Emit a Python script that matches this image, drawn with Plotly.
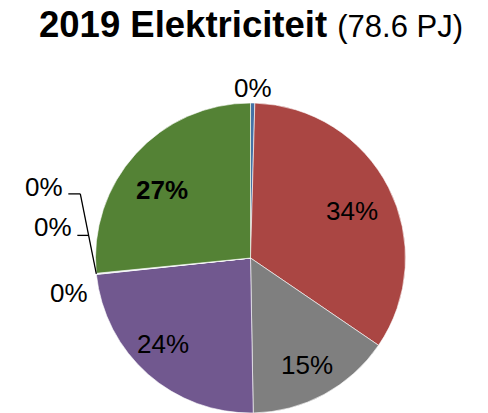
import math
import plotly.graph_objects as go

# ---- data ----
categories = ["Kolen", "Aardgas", "Kernenergie", "Wind", "Zon", "Waterkracht", "Overig", "Biomassa"]
values_pj = [0.35, 26.8, 11.95, 18.55, 0.03, 0.03, 0.03, 20.9]
title_main = "2019 Elektriciteit"
title_sub = "(78.6 PJ)"

# ---- style ----
colors = ["#4572A7", "#AA4643", "#7F7F7F", "#71588F", "#4198AF", "#DB843D", "#93A9CF", "#548235"]
W, H = 488, 413
CX, CY, R = 250.5, 258.0, 155.0
FONT = "Liberation Sans, Arial, sans-serif"
LABEL_SIZE = 26
# inside/outside label placement (radius factor, angular nudge in degrees), None = leader label
label_place = [(1.10, 0), (0.72, 2), (0.78, 0.6), (0.79, 4), None, None, None, (0.72, -4.7)]
bold_label = [False, False, False, False, False, False, False, True]
# leader-labelled small slices: offsets (px) of label right end from slice edge anchor
leader_offsets = [(-31, -87), (-22, -46.5), (-6, 19)]

def px(x, y):
    return x / W, 1 - y / H

total = sum(values_pj)
pct_text = ["%d%%" % round(v / total * 100) for v in values_pj]

fig = go.Figure(go.Pie(
    labels=categories, values=values_pj, sort=False, direction="clockwise", rotation=0,
    marker=dict(colors=colors, line=dict(color="white", width=0.6)),
    textinfo="none", hoverinfo="label+percent", showlegend=False,
    domain=dict(x=[(CX - R) / W, (CX + R) / W], y=[1 - (CY + R) / H, 1 - (CY - R) / H]),
))

annotations = []
shapes = []
cum = 0.0
mids = []
for v in values_pj:
    mids.append((cum + v / 2) / total * 360.0)
    cum += v

for i, place in enumerate(label_place):
    if place is None:
        continue
    rf, nudge = place
    a = math.radians(mids[i] + nudge)
    x = CX + rf * R * math.sin(a)
    y = CY - rf * R * math.cos(a)
    xp, yp = px(x, y)
    txt = "<b>%s</b>" % pct_text[i] if bold_label[i] else pct_text[i]
    annotations.append(dict(x=xp, y=yp, xref="paper", yref="paper", text=txt, showarrow=False,
                            xanchor="center", yanchor="middle",
                            font=dict(family=FONT, size=LABEL_SIZE, color="black")))

small_idx = [i for i, p in enumerate(label_place) if p is None]
a_small = math.radians(sum(mids[i] for i in small_idx) / len(small_idx))
ax = CX + R * math.sin(a_small)
ay = CY - R * math.cos(a_small)
for k, i in enumerate(small_idx):
    ox, oy = leader_offsets[k]
    xp, yp = px(ax + ox, ay + oy)
    annotations.append(dict(x=xp, y=yp, xref="paper", yref="paper", text=pct_text[i], showarrow=False,
                            xanchor="right", yanchor="middle",
                            font=dict(family=FONT, size=LABEL_SIZE, color="black")))

# leader lines for the first two small labels
kx, ky = -16, -80
pts1 = [(ax - 28, ay + ky), (ax + kx, ay + ky), (ax, ay)]
ly2 = -38.5
pts2 = [(ax - 19, ay + ly2), (ax + kx * ly2 / ky, ay + ly2)]
for pts in (pts1, pts2):
    for (x0, y0), (x1, y1) in zip(pts[:-1], pts[1:]):
        p0, p1 = px(x0, y0), px(x1, y1)
        shapes.append(dict(type="line", xref="paper", yref="paper", x0=p0[0], y0=p0[1],
                           x1=p1[0], y1=p1[1], line=dict(color="black", width=1.3)))

annotations.append(dict(
    x=251 / W, y=1 - 25 / H, xref="paper", yref="paper", showarrow=False,
    xanchor="center", yanchor="middle",
    text="<b>%s</b> <span style='font-size:31px'>%s</span>" % (title_main, title_sub),
    font=dict(family=FONT, size=36.5, color="black")))

fig.update_layout(width=W, height=H, margin=dict(l=0, r=0, t=0, b=0),
                  paper_bgcolor="white", plot_bgcolor="white",
                  annotations=annotations, shapes=shapes)
fig.write_html("out.html", config={"displayModeBar": False},
               post_script="document.body.style.margin='0';document.body.style.overflow='hidden';")
